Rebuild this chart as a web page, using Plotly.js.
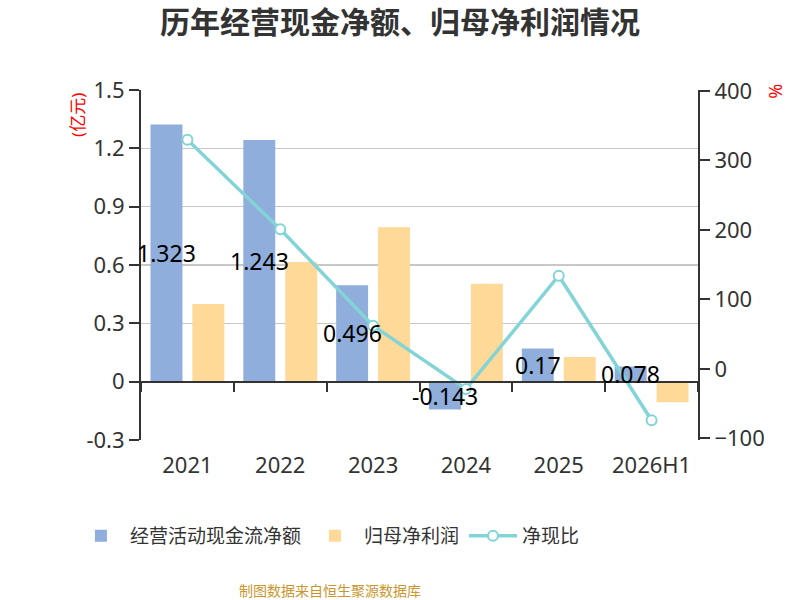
<!DOCTYPE html>
<html>
<head>
<meta charset="utf-8">
<script src="https://cdn.plot.ly/plotly-3.0.1.min.js"></script>
<style>
  html, body { margin:0; padding:0; background:#fff; }
  #chart { width:800px; height:600px; }
</style>
</head>
<body>
<div id="chart"></div>
<script>
/* ============================================================
   历年经营现金净额、归母净利润情况
   bars: 经营活动现金流净额 / 归母净利润 (亿元, left axis)
   line: 净现比 (%, right axis)
   ============================================================ */

// ---- Data ----
const years     = ['2021', '2022', '2023', '2024', '2025', '2026H1'];
const cashFlow  = [1.323, 1.243, 0.496, -0.143, 0.17, 0.078];
const netProfit = [0.40, 0.616, 0.794, 0.504, 0.127, -0.106];
const cashRatio = [330, 201, 62, -29, 134, -74];
const cashLabels = ['1.323', '1.243', '0.496', '-0.143', '0.17', '0.078'];

// ---- Colours / fonts ----
const BLUE   = '#8faedb';
const ORANGE = '#ffd998';
const TEAL   = '#83d4d7';
const AXIS   = '#333333';
const FONT   = '"Noto Sans", "Noto Sans CJK SC", sans-serif';

const traces = [
  {
    type: 'bar',
    name: '经营活动现金流净额',
    x: years,
    y: cashFlow,
    marker: { color: BLUE },
    hoverinfo: 'x+y'
  },
  {
    type: 'bar',
    name: '归母净利润',
    x: years,
    y: netProfit,
    marker: { color: ORANGE },
    hoverinfo: 'x+y'
  },
  {
    // line sits on its own overlay x axis so that axis can act as the zero line
    type: 'scatter',
    mode: 'lines+markers',
    name: '净现比',
    x: years,
    y: cashRatio,
    xaxis: 'x2',
    yaxis: 'y2',
    line: { color: TEAL, width: 3.5 },
    marker: { size: 10, color: '#ffffff', line: { color: TEAL, width: 2 } }
  }
];

// ---- Value labels in the middle of each cash-flow bar ----
// x given as category index: year strings look numeric and would be read as positions
const labelAnnotations = years.map((yr, i) => ({
  x: i,
  y: cashFlow[i] / 2,
  xref: 'x',
  yref: 'y',
  text: cashLabels[i],
  showarrow: false,
  xanchor: 'center',
  yanchor: 'middle',
  xshift: -21,
  font: { family: FONT, size: 23, color: '#000000' }
}));

const layout = {
  width: 800,
  height: 600,
  paper_bgcolor: '#ffffff',
  plot_bgcolor: '#ffffff',
  font: { family: FONT, color: AXIS },
  margin: { l: 141, r: 102, t: 90, b: 160 },
  title: {
    text: '<b>历年经营现金净额、归母净利润情况</b>',
    font: { family: FONT, size: 30, color: '#333333' },
    x: 0.5,
    xanchor: 'center',
    yref: 'container',
    y: 1 - 22 / 600,
    yanchor: 'middle'
  },
  barmode: 'group',
  bargap: 0.097,
  bargroupgap: 0.238,
  showlegend: true,
  legend: {
    orientation: 'h',
    x: -0.124,
    xanchor: 'left',
    y: -0.274,
    yanchor: 'middle',
    itemwidth: 48,
    font: { family: FONT, size: 19, color: '#333333' }
  },
  xaxis: {
    type: 'category',
    categoryarray: years,
    range: [-0.5, 5.5],
    autorange: false,
    showline: false,
    showgrid: false,
    zeroline: false,
    ticks: '',
    ticklabelstandoff: 10,
    tickfont: { family: FONT, size: 22, color: AXIS },
    fixedrange: true
  },
  xaxis2: {
    type: 'category',
    overlaying: 'x',
    anchor: 'free',
    position: 0.3 / 1.8,
    categoryarray: years,
    range: [-0.5, 5.5],
    autorange: false,
    showline: true,
    linecolor: AXIS,
    linewidth: 2,
    showgrid: false,
    zeroline: false,
    ticks: 'outside',
    tickson: 'boundaries',
    ticklen: 9,
    tickwidth: 2,
    tickcolor: AXIS,
    showticklabels: false
  },
  yaxis: {
    range: [-0.3, 1.5],
    tickvals: [-0.3, 0, 0.3, 0.6, 0.9, 1.2, 1.5],
    ticktext: ['-0.3', '0', '0.3', '0.6', '0.9', '1.2', '1.5'],
    showline: true,
    linecolor: AXIS,
    linewidth: 2,
    ticks: 'outside',
    ticklen: 10,
    tickwidth: 2,
    tickcolor: AXIS,
    showgrid: true,
    gridcolor: '#c8c8c8',
    gridwidth: 1.5,
    zeroline: false,
    tickfont: { family: FONT, size: 22, color: AXIS }
  },
  yaxis2: {
    overlaying: 'y',
    anchor: 'x2',
    side: 'right',
    range: [-102.5, 401.5],
    dtick: 100,
    tick0: 0,
    showline: true,
    linecolor: AXIS,
    linewidth: 2,
    ticks: 'outside',
    ticklen: 10,
    tickwidth: 2,
    tickcolor: AXIS,
    showgrid: false,
    zeroline: false,
    tickfont: { family: FONT, size: 22, color: AXIS }
  },
  annotations: [
    ...labelAnnotations,
    {
      // left unit label
      xref: 'paper', yref: 'paper',
      x: -0.113, y: 0.929,
      xanchor: 'center', yanchor: 'middle',
      text: '(亿元)',
      textangle: -90,
      showarrow: false,
      font: { family: FONT, size: 17, color: '#ff0000' }
    },
    {
      // right unit label
      xref: 'paper', yref: 'paper',
      x: 1.14, y: 0.995,
      xanchor: 'center', yanchor: 'middle',
      text: '%',
      textangle: 90,
      showarrow: false,
      font: { family: FONT, size: 18, color: '#ff0000' }
    },
    {
      // source note, centred under the legend rather than the plot
      xref: 'paper', yref: 'paper',
      x: 0.339, y: -0.4286,
      xanchor: 'center', yanchor: 'middle',
      text: '制图数据来自恒生聚源数据库',
      showarrow: false,
      font: { family: FONT, size: 14, color: '#c9962d' }
    }
  ]
};

Plotly.newPlot('chart', traces, layout, { displayModeBar: false, staticPlot: true });
</script>
</body>
</html>
